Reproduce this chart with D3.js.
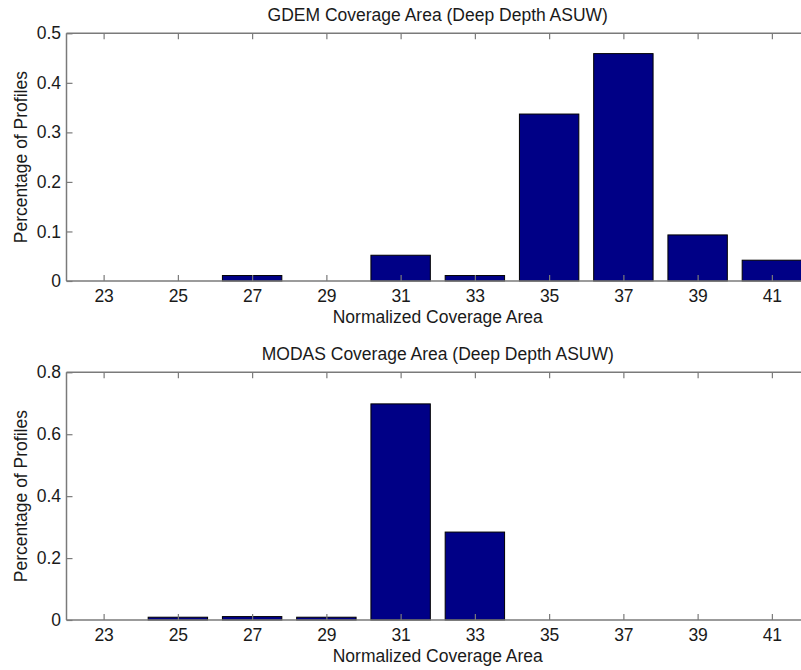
<!DOCTYPE html>
<html>
<head>
<meta charset="utf-8">
<script src="https://cdn.jsdelivr.net/npm/d3@7"></script>
<style>
  html, body { margin: 0; padding: 0; background: #fff; }
  svg { display: block; overflow: hidden; }
  text { font-family: "Liberation Sans", Arial, sans-serif; fill: #1a1a1a; }
</style>
</head>
<body>
<svg id="chart" width="801" height="670"></svg>
<script>
// ---- data ----
const categories = [23, 25, 27, 29, 31, 33, 35, 37, 39, 41];
const gdemValues = [0, 0, 0.011, 0, 0.052, 0.011, 0.337, 0.459, 0.093, 0.042];
const modasValues = [0, 0.009, 0.011, 0.009, 0.698, 0.284, 0, 0, 0, 0];
const gdemYTicks = [0, 0.1, 0.2, 0.3, 0.4, 0.5];
const modasYTicks = [0, 0.2, 0.4, 0.6, 0.8];
const xTicks = categories;
const titles = ["GDEM Coverage Area (Deep Depth ASUW)", "MODAS Coverage Area (Deep Depth ASUW)"];
const xLabel = "Normalized Coverage Area";
const yLabel = "Percentage of Profiles";

// ---- layout ----
const svg = d3.select("#chart");
const left = 66.5, right = 809;
const fontSize = 17.5;
const axisColor = "#7a7a7a";
const barColor = "#000086";
const barWidthUnits = 1.6;
const tickLen = 6;

const x = d3.scaleLinear().domain([22, 42]).range([left, right]);

function panel(values, yMax, yTicks, top, bottom, title) {
  const y = d3.scaleLinear().domain([0, yMax]).range([bottom, top]);
  const g = svg.append("g");

  // bars
  g.selectAll("rect.bar")
    .data(categories.map((c, i) => ({ c, v: values[i] })).filter(d => d.v > 0))
    .enter().append("rect")
    .attr("class", "bar")
    .attr("x", d => x(d.c - barWidthUnits / 2))
    .attr("width", d => x(d.c + barWidthUnits / 2) - x(d.c - barWidthUnits / 2))
    .attr("y", d => y(d.v))
    .attr("height", d => y(0) - y(d.v))
    .attr("fill", barColor)
    .attr("stroke", "#000")
    .attr("stroke-width", 1);

  // bottom axis
  const xb = d3.axisBottom(x).tickValues(xTicks).tickSize(-tickLen).tickPadding(9).tickFormat(d3.format("d"));
  const gx = g.append("g").attr("transform", `translate(0,${bottom})`).call(xb);
  // top axis (ticks only)
  const xt = d3.axisTop(x).tickValues(xTicks).tickSize(-tickLen).tickFormat("");
  const gxt = g.append("g").attr("transform", `translate(0,${top})`).call(xt);
  // left axis
  const yl = d3.axisLeft(y).tickValues(yTicks).tickSize(-tickLen).tickPadding(5.5)
    .tickFormat(d => d === 0 ? "0" : d3.format(".1f")(d));
  const gy = g.append("g").attr("transform", `translate(${left},0)`).call(yl);
  // right axis (ticks only)
  const yr = d3.axisRight(y).tickValues(yTicks).tickSize(-tickLen).tickFormat("");
  const gyr = g.append("g").attr("transform", `translate(${right},0)`).call(yr);

  [gx, gxt, gy, gyr].forEach(a => {
    a.selectAll(".domain").attr("stroke", axisColor).attr("stroke-width", 1.5);
    a.selectAll(".tick line").attr("stroke", axisColor).attr("stroke-width", 1.2);
    a.selectAll(".tick text").attr("font-size", fontSize).attr("fill", "#1a1a1a")
      .attr("font-family", '"Liberation Sans", Arial, sans-serif');
  });
  gx.selectAll(".domain").attr("d", `M${left},0H${right}`);
  gxt.selectAll(".domain").attr("d", `M${left},0H${right}`);
  gy.selectAll(".domain").attr("d", `M0,${bottom}V${top}`);
  gyr.selectAll(".domain").attr("d", `M0,${bottom}V${top}`);

  // title
  g.append("text")
    .attr("x", (left + right) / 2).attr("y", top - 12)
    .attr("text-anchor", "middle").attr("font-size", fontSize)
    .text(title);
  // x label
  g.append("text")
    .attr("x", (left + right) / 2).attr("y", bottom + 42)
    .attr("text-anchor", "middle").attr("font-size", fontSize)
    .text(xLabel);
  // y label
  g.append("text")
    .attr("transform", `translate(27,${(top + bottom) / 2}) rotate(-90)`)
    .attr("text-anchor", "middle").attr("font-size", fontSize)
    .text(yLabel);
}

panel(gdemValues, 0.5, gdemYTicks, 33.3, 281, titles[0]);
panel(modasValues, 0.8, modasYTicks, 372.3, 620, titles[1]);
</script>
</body>
</html>
